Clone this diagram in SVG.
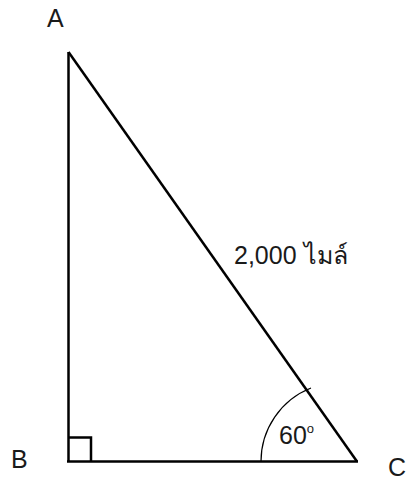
<svg xmlns="http://www.w3.org/2000/svg" width="412" height="482" viewBox="0 0 412 482">
<style>
.lbl{font-family:"Liberation Sans","Noto Sans",sans-serif;fill:#1a1a1a;font-size:25px}
.edge{stroke:#000;stroke-width:2.5;fill:none;stroke-linejoin:miter}
.thin{stroke:#000;stroke-width:1.2;fill:none}
</style>
<rect width="412" height="482" fill="#fff"/>
<g id="connectors">
<line class="edge" x1="68.5" y1="52" x2="68.5" y2="462"/>
<line class="edge" x1="67" y1="461.5" x2="358" y2="461.5"/>
<line class="edge" x1="68.5" y1="52" x2="357" y2="461.5"/>
<polyline class="edge" points="68.5,437.5 91,437.5 91,461.5"/>
<path class="thin" d="M261,461.5 A79,79 0 0 1 311,388"/>
</g>
<g id="A"><text class="lbl" x="47" y="27">A</text></g>
<g id="B"><text class="lbl" x="11" y="468">B</text></g>
<g id="C"><text class="lbl" x="388" y="476">C</text></g>
<g id="hyp"><text class="lbl" x="234" y="264" font-size="27">2,000 ไมล์</text></g>
<g id="angle"><text class="lbl" x="279" y="444" font-size="24">60<tspan font-size="13" dy="-11">o</tspan></text></g>
</svg>
